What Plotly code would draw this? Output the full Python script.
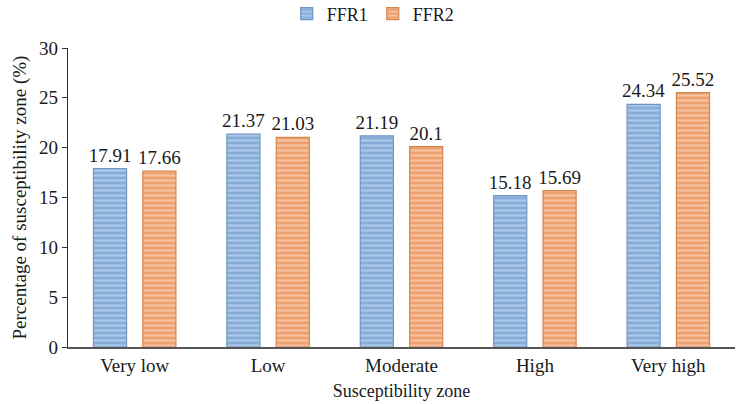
import plotly.graph_objects as go

zones = ["Very low", "Low", "Moderate", "High", "Very high"]
ffr1 = [17.91, 21.37, 21.19, 15.18, 24.34]
ffr2 = [17.66, 21.03, 20.1, 15.69, 25.52]
ffr1_labels = ["17.91", "21.37", "21.19", "15.18", "24.34"]
ffr2_labels = ["17.66", "21.03", "20.1", "15.69", "25.52"]
y_title = "Percentage of susceptibility zone (%)"
x_title = "Susceptibility zone"

font_family = "Liberation Serif, Times New Roman, serif"

fig = go.Figure()
fig.add_trace(go.Bar(
    name="FFR1", x=zones, y=ffr1, text=ffr1_labels,
    textposition="outside", cliponaxis=False, constraintext="none",
    textfont=dict(size=19, color="#1a1a1a", family=font_family),
    marker=dict(
        color="#86acd8",
        line=dict(color="#6e95c5", width=1.2),
        pattern=dict(shape="-", fgcolor="#adc8e8", bgcolor="#86acd8",
                     size=5, solidity=0.45, fillmode="replace"),
    ),
))
fig.add_trace(go.Bar(
    name="FFR2", x=zones, y=ffr2, text=ffr2_labels,
    textposition="outside", cliponaxis=False, constraintext="none",
    textfont=dict(size=19, color="#1a1a1a", family=font_family),
    marker=dict(
        color="#eea06f",
        line=dict(color="#d4864f", width=1.2),
        pattern=dict(shape="-", fgcolor="#f6c29f", bgcolor="#eea06f",
                     size=5, solidity=0.45, fillmode="replace"),
    ),
))

# vertical axis title drawn as a rotated annotation left of the tick labels
fig.add_annotation(
    text=y_title, textangle=-90, showarrow=False,
    xref="paper", yref="paper", x=-0.072, y=0.5,
    xanchor="center", yanchor="middle",
    font=dict(size=19, family=font_family, color="#1a1a1a"),
)

fig.update_layout(
    width=754, height=404,
    margin=dict(l=68, r=19, t=48, b=57, autoexpand=False),
    paper_bgcolor="white", plot_bgcolor="white",
    barmode="group", bargap=0.26, bargroupgap=0.33,
    font=dict(family=font_family, size=19, color="#1a1a1a"),
    legend=dict(orientation="h", x=0.495, xref="container", xanchor="center",
                y=1.114, yanchor="middle", itemwidth=30,
                font=dict(size=18, family=font_family)),
    xaxis=dict(
        showline=True, linecolor="#555555", linewidth=2,
        ticks="", showgrid=False,
        tickfont=dict(size=19, family=font_family),
        title=dict(text=x_title, standoff=10,
                   font=dict(size=18, family=font_family)),
    ),
    yaxis=dict(
        range=[0, 30], dtick=5, showline=True, linecolor="#333333",
        linewidth=1.2, ticks="outside", ticklen=5, tickcolor="#333333",
        showgrid=False, zeroline=False,
        tickfont=dict(size=19, family=font_family),
    ),
)

fig.write_html("out.html")
